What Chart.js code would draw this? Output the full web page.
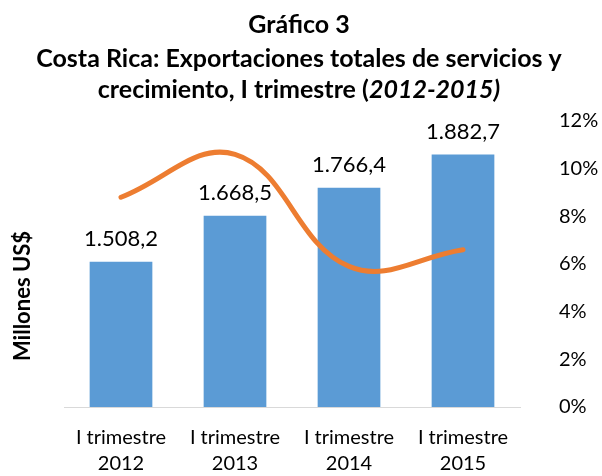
<!DOCTYPE html>
<html>
<head>
<meta charset="utf-8">
<script src="https://cdn.jsdelivr.net/npm/chart.js@4"></script>
<style>
  html, body { margin: 0; padding: 0; background: #fff; }
  #wrap { width: 602px; height: 476px; }
</style>
</head>
<body>
<div id="wrap"><canvas id="grafico"></canvas></div>
<script>
// datos del gráfico
const categorias = [["I trimestre", "2012"], ["I trimestre", "2013"], ["I trimestre", "2014"], ["I trimestre", "2015"]];
const exportaciones = [1508.2, 1668.5, 1766.4, 1882.7];
const etiquetasValor = ["1.508,2", "1.668,5", "1.766,4", "1.882,7"];
const crecimiento = [8.8, 10.6, 5.9, 6.6];
const ticksPct = [0, 2, 4, 6, 8, 10, 12];

const FUENTE = "Lato, 'Open Sans', sans-serif";

// titulo con partes en cursiva + titulo del eje izquierdo
const tituloPlugin = {
    id: "titulo",
    afterDraw(chart) {
        const c = chart.ctx;
        const cx = 299;
        c.save();
        c.fillStyle = "#000";
        c.textBaseline = "middle";
        c.textAlign = "center";
        c.font = "bold 25px " + FUENTE;
        c.fillText("Gráfico 3", cx, 25);
        c.fillText("Costa Rica: Exportaciones totales de servicios y", cx, 59);

        // tercera linea: mezcla negrita / negrita cursiva
        const a = "crecimiento, I trimestre (";
        const b = "2012-2015)";
        c.textAlign = "left";
        c.font = "bold 25px " + FUENTE;
        const wa = c.measureText(a).width;
        c.font = "italic bold 25px " + FUENTE;
        const wb = c.measureText(b).width;
        let x = cx - (wa + wb) / 2;
        c.font = "bold 25px " + FUENTE;
        c.fillText(a, x, 90);
        c.font = "italic bold 25px " + FUENTE;
        c.fillText(b, x + wa, 90);

        // eje izquierdo
        c.translate(23, 296);
        c.rotate(-Math.PI / 2);
        c.textAlign = "center";
        c.font = "bold 22px " + FUENTE;
        c.fillText("Millones US$", 0, 0);
        c.restore();
    }
};

// etiquetas de valor encima de las barras
const valoresPlugin = {
    id: "valores",
    afterDatasetsDraw(chart) {
        const c = chart.ctx;
        const meta = chart.getDatasetMeta(1);
        c.save();
        c.fillStyle = "#000";
        c.font = "22px " + FUENTE;
        c.textAlign = "center";
        c.textBaseline = "alphabetic";
        meta.data.forEach((bar, i) => {
            c.fillText(etiquetasValor[i], bar.x, bar.y - 16);
        });
        c.restore();
    }
};

new Chart(document.getElementById("grafico"), {
    data: {
        labels: categorias,
        datasets: [
            {
                type: "line",
                label: "Crecimiento",
                data: crecimiento,
                yAxisID: "y1",
                borderColor: "#ED7D31",
                borderWidth: 5,
                borderCapStyle: "round",
                tension: 0.4,
                pointRadius: 0,
                fill: false,
                order: 0
            },
            {
                type: "bar",
                label: "Exportaciones",
                data: exportaciones,
                yAxisID: "y",
                backgroundColor: "#5B9BD5",
                barPercentage: 0.55,
                categoryPercentage: 1,
                order: 1
            }
        ]
    },
    options: {
        responsive: true,
        maintainAspectRatio: false,
        animation: false,
        layout: { padding: { top: 121, left: 64, right: 0, bottom: 0 } },
        plugins: {
            legend: { display: false },
            tooltip: { enabled: false },
            title: { display: false }
        },
        scales: {
            x: {
                grid: { display: false },
                border: { color: "#d9d9d9", width: 1 },
                ticks: {
                    color: "#000",
                    font: { family: FUENTE, size: 20, lineHeight: 1.3 },
                    padding: 10,
                    maxRotation: 0,
                    autoSkip: false
                },
                afterFit(s) { s.height = 69; }
            },
            y: {
                display: false,
                min: 1000,
                max: 2000
            },
            y1: {
                position: "right",
                min: 0,
                max: 12,
                grid: { display: false },
                border: { display: false },
                afterBuildTicks(s) { s.ticks = ticksPct.map(v => ({ value: v })); },
                ticks: {
                    color: "#000",
                    font: { family: FUENTE, size: 20 },
                    padding: 31,
                    callback: v => v + "%"
                },
                afterFit(s) { s.width = 82; }
            }
        }
    },
    plugins: [tituloPlugin, valoresPlugin]
});
</script>
</body>
</html>
